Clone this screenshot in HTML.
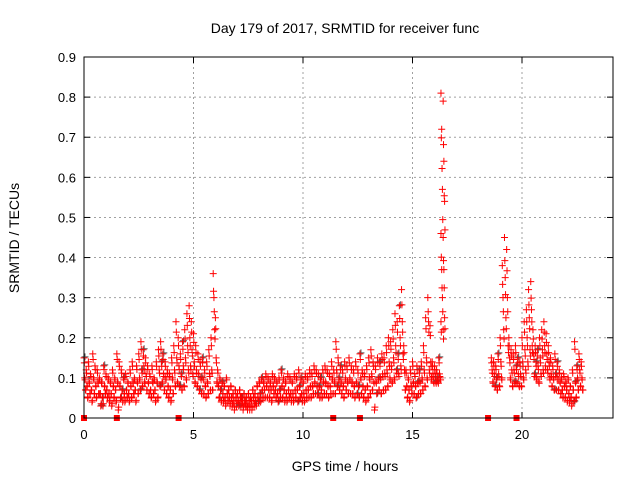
<!DOCTYPE html>
<html><head><meta charset="utf-8"><style>
body{margin:0;background:#fff;}
svg{display:block;font-family:"Liberation Sans",sans-serif;}
</style></head><body>
<svg id="c" width="640" height="480"></svg>
<script>
const slotStart = 0;
const slotStep = 0.1;
const slotValues = [
[.15,.10,.07],[.12,.08,.05],[.14,.09,.06],[.11,.07,.04],[.16,.10,.06],[.13,.08,.05],[.12,.09,.06],[.10,.06,.03],[.09,.05,.03],[.13,.08,.06],
[.11,.07,.05],[.10,.06,.04],[.09,.06,.03],[.12,.08,.05],[.10,.07,.04],[.16,.09,.02],[.14,.08,.05],[.12,.07,.04],[.10,.06,.04],[.11,.07,.05],
[.09,.06,.04],[.12,.08,.05],[.14,.09,.06],[.10,.07,.04],[.13,.09,.06],[.16,.10,.07],[.19,.12,.08],[.17,.13,.09],[.15,.11,.07],[.13,.09,.06],
[.11,.07,.05],[.13,.09,.06],[.10,.07,.04],[.14,.09,.05],[.17,.12,.08],[.19,.14,.09],[.16,.11,.07],[.14,.10,.06],[.12,.08,.05],[.11,.07,.04],
[.15,.10,.06],[.18,.12,.08],[.24,.15,.09],[.20,.13,.08],[.16,.11,.07],[.19,.13,.08],[.22,.15,.10],[.26,.18,.12],[.28,.20,.13],[.24,.17,.11],
[.21,.14,.09],[.18,.12,.08],[.16,.11,.07],[.14,.10,.06],[.15,.10,.06],[.12,.08,.05],[.14,.09,.06],[.17,.11,.07],[.20,.12,.07],[.36,.30,.22],
[.25,.15,.09],[.12,.08,.05],[.10,.07,.04],[.09,.06,.04],[.08,.05,.03],[.10,.06,.04],[.07,.05,.03],[.08,.05,.03],[.06,.04,.02],[.07,.05,.03],
[.06,.04,.03],[.07,.05,.03],[.05,.04,.02],[.06,.04,.03],[.05,.03,.02],[.06,.04,.02],[.05,.04,.02],[.07,.05,.03],[.06,.04,.03],[.08,.05,.04],
[.09,.06,.04],[.10,.07,.05],[.09,.07,.05],[.11,.08,.05],[.10,.07,.05],[.09,.07,.04],[.11,.08,.06],[.10,.07,.05],[.09,.06,.04],[.10,.07,.05],
[.12,.08,.05],[.10,.07,.04],[.09,.06,.04],[.11,.07,.05],[.10,.06,.04],[.09,.06,.04],[.11,.07,.05],[.10,.07,.04],[.12,.08,.05],[.10,.06,.04],
[.09,.06,.04],[.11,.07,.05],[.10,.07,.05],[.12,.08,.05],[.11,.08,.06],[.13,.09,.06],[.12,.08,.06],[.11,.08,.05],[.10,.07,.05],[.12,.09,.06],
[.13,.09,.06],[.12,.08,.05],[.11,.08,.06],[.14,.10,.06],[.12,.09,.06],[.19,.12,.08],[.15,.10,.07],[.13,.09,.06],[.12,.08,.05],[.14,.10,.07],
[.13,.09,.06],[.15,.10,.06],[.13,.09,.06],[.12,.08,.05],[.14,.09,.06],[.12,.08,.05],[.16,.10,.06],[.12,.08,.05],[.11,.07,.04],[.13,.08,.05],
[.15,.10,.06],[.17,.11,.07],[.14,.09,.02],[.13,.09,.06],[.15,.10,.07],[.14,.10,.06],[.16,.11,.07],[.15,.11,.07],[.18,.12,.08],[.20,.14,.10],
[.19,.13,.09],[.22,.15,.10],[.26,.18,.12],[.24,.16,.11],[.28,.20,.13],[.32,.24,.16],[.18,.12,.07],[.12,.08,.05],[.10,.07,.04],[.12,.08,.06],
[.14,.09,.06],[.11,.08,.05],[.13,.09,.06],[.12,.09,.06],[.14,.10,.07],[.18,.12,.08],[.25,.15,.10],[.30,.24,.12],[.23,.14,.10],[.14,.11,.09],
[.13,.11,.09],[.12,.10,.09],[.15,.11,.10],[.81,.72,.57,.46,.37,.30,.24],[.79,.64,.54,.45,.37,.25,.22],
[],[],[],[],[],[],[],[],[],[],[],[],[],[],[],[],[],[],[],[],[],
[.15,.12,.09],[.14,.11,.08],[.13,.10,.07],[.16,.11,.08],
[.20,.14,.10],[.38,.30,.22],[.45,.35,.25],[.42,.30,.18],[.20,.15,.10],[.17,.12,.08],[.16,.12,.09],[.18,.13,.09],[.15,.11,.08],[.14,.11,.08],
[.20,.14,.10],[.24,.17,.12],[.27,.20,.14],[.32,.25,.17],[.34,.27,.18],[.22,.16,.11],[.18,.14,.10],[.17,.13,.09],[.20,.15,.11],[.22,.17,.12],
[.24,.18,.13],[.21,.16,.12],[.18,.14,.10],[.15,.11,.08],[.13,.10,.07],[.16,.11,.07],[.14,.10,.07],[.12,.09,.06],[.10,.07,.05],[.11,.08,.05],
[.09,.07,.04],[.10,.06,.04],[.08,.05,.03],[.12,.07,.04],[.19,.09,.05],[.13,.10,.07],[.16,.12,.08],[.14,.10,.07]
];
const gapHours = [0, 1.5, 4.32, 11.38, 12.6, 18.45, 19.75];
const xTicks = [0,5,10,15,20];
const yTicks = [0,0.1,0.2,0.3,0.4,0.5,0.6,0.7,0.8,0.9];
const yTickLabels = ["0","0.1","0.2","0.3","0.4","0.5","0.6","0.7","0.8","0.9"];

const L=84,R=613,T=57,B=418;
const xMax=(R-L)/21.9, yMax=0.9;
const X=h=>L+h/xMax*(R-L);
const Y=v=>B-v/yMax*(B-T);
const svg=document.getElementById('c');
const NS='http://www.w3.org/2000/svg';
function mk(tag,attrs,parent){const e=document.createElementNS(NS,tag);for(const k in attrs)e.setAttribute(k,attrs[k]);(parent||svg).appendChild(e);return e;}

const grid=mk('g',{});


yTicks.forEach((v,i)=>{
  if(i>0&&i<yTicks.length-1){const l=mk('line',{x1:L,x2:R,y1:Y(v),y2:Y(v),stroke:'#a0a0a0','stroke-dasharray':'2,3'},grid);
  }
  const t=mk('text',{x:L-8,y:Y(v)+5,'text-anchor':'end','font-size':13,fill:'#000'});
  t.textContent=yTickLabels[i];
  
  mk('line',{x1:L,x2:L+6,y1:Y(v),y2:Y(v),stroke:'#000'});
  mk('line',{x1:R,x2:R-6,y1:Y(v),y2:Y(v),stroke:'#000'});
});
xTicks.forEach(h=>{
  if(h>0){const l=mk('line',{x1:X(h),x2:X(h),y1:T,y2:B,stroke:'#a0a0a0','stroke-dasharray':'2,3'},grid);
  }
  const t=mk('text',{x:X(h),y:B+21,'text-anchor':'middle','font-size':13,fill:'#000'});
  t.textContent=String(h);
  
  mk('line',{x1:X(h),x2:X(h),y1:B,y2:B-6,stroke:'#000'});
  mk('line',{x1:X(h),x2:X(h),y1:T,y2:T+6,stroke:'#000'});
});

const pts=mk('g',{});


function plus(x,y,col){const p=mk('path',{d:`M${x-3.5} ${y}h7M${x} ${y-3.5}v7`,stroke:col,'stroke-width':1},pts);
  }
slotValues.forEach((vals,i)=>{
  const h=slotStart+i*slotStep;
  vals.forEach((v,k)=>{
    const hh=h+(k%3)*0.033;
    if((i+k)%9===0) plus(X(hh)+1,Y(v)-1,'#555');
    plus(X(hh),Y(v),'#ff0000');
    plus(X(hh+0.016),Y(v*0.85+0.01),'#ff0000');
  });
});
gapHours.forEach(h=>{const r=mk('rect',{x:X(h)-3,y:B-3,width:6,height:6,fill:'#ff0000'});
  });

const f=mk('rect',{x:L,y:T,width:R-L,height:B-T,fill:'none',stroke:'#000'});


let t=mk('text',{x:345,y:33,'text-anchor':'middle','font-size':14});
t.textContent='Day 179 of 2017, SRMTID for receiver func';

t=mk('text',{x:345,y:471,'text-anchor':'middle','font-size':14});
t.textContent='GPS time / hours';

t=mk('text',{x:19,y:238,'text-anchor':'middle','font-size':14,transform:'rotate(-90 19 238)'});
t.textContent='SRMTID / TECUs';

</script>
</body></html>
